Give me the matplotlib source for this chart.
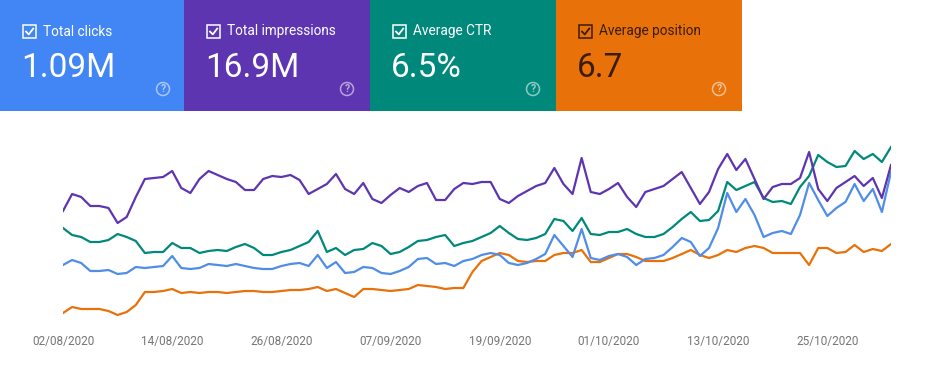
import matplotlib.pyplot as plt
import matplotlib.dates as mdates
import matplotlib.patches as mpatches
import pandas as pd

plt.rcParams['font.family'] = ['Roboto', 'DejaVu Sans']

# summary cards
card_titles = ["Total clicks", "Total impressions", "Average CTR", "Average position"]
card_values = ["1.09M", "16.9M", "6.5%", "6.7"]
card_colors = ["#4285f4", "#5e35b1", "#00897b", "#e8710a"]
card_text = ["white", "white", "white", "#3a1d00"]

# daily series (relative chart level, no y scale shown)
start_date = "2020-08-02"
clicks = [55, 60, 57, 49, 49, 50, 46, 47, 53, 52, 53, 54, 64, 52, 51,
          52, 56, 55, 54, 56, 54, 52, 51, 51, 54, 56, 57, 54, 65, 52, 58,
          47, 48, 53, 52, 47, 46, 49, 53, 61, 62, 56, 57, 54, 59, 61,
          65, 67, 65, 57, 55, 57, 61, 66, 85, 74, 63, 91, 62, 60, 64,
          66, 63, 55, 61, 62, 65, 73, 82, 78, 64, 72, 92, 127, 108, 121, 105,
          83, 87, 89, 86, 105, 137, 120, 104, 112, 118, 136, 119, 131, 108, 148]
impressions = [109, 126, 123, 114, 114, 112, 97, 103, 123, 141, 142, 143, 149, 132, 127,
               141, 149, 145, 141, 138, 130, 130, 141, 144, 143, 145, 140, 126, 131, 136, 146,
               131, 126, 137, 121, 117, 125, 132, 128, 134, 137, 120, 120, 131, 137, 136,
               138, 138, 121, 117, 124, 129, 134, 137, 152, 136, 126, 162, 128, 126, 131,
               137, 123, 113, 128, 131, 134, 141, 148, 132, 116, 128, 151, 166, 150, 161, 141,
               121, 133, 136, 136, 142, 168, 131, 119, 132, 138, 144, 134, 142, 122, 155]
ctr = [92, 85, 83, 78, 78, 80, 86, 83, 79, 67, 68, 68, 77, 72, 72,
       67, 69, 70, 69, 73, 76, 72, 65, 65, 68, 70, 74, 78, 89, 68, 72,
       65, 70, 71, 77, 74, 66, 68, 73, 79, 80, 83, 85, 74, 77, 79,
       83, 87, 94, 87, 81, 80, 82, 86, 101, 99, 89, 102, 86, 85, 88,
       88, 91, 86, 83, 83, 86, 93, 101, 108, 99, 100, 109, 138, 130, 134, 138,
       122, 118, 119, 116, 133, 144, 165, 158, 153, 154, 169, 161, 166, 158, 173]
position = [7, 13, 11, 11, 11, 9, 5, 8, 15, 28, 28, 29, 31, 27, 28,
            27, 28, 28, 27, 28, 29, 29, 28, 28, 29, 30, 30, 31, 33, 29, 31,
            27, 23, 31, 31, 30, 29, 30, 31, 35, 34, 33, 31, 32, 32, 48,
            59, 63, 67, 65, 59, 58, 59, 59, 65, 67, 67, 70, 58, 58, 62,
            66, 66, 63, 59, 59, 59, 62, 66, 70, 65, 62, 65, 70, 68, 72, 74,
            72, 67, 67, 67, 67, 55, 72, 72, 67, 68, 75, 68, 71, 69, 76]

dates = pd.date_range(start_date, periods=len(clicks), freq="D")

W, H = 941, 372
fig = plt.figure(figsize=(W / 100, H / 100), dpi=100)

# cards across the top
card_w = [184, 186, 186, 186]
x0 = 0
for title, value, col, tcol, w in zip(card_titles, card_values, card_colors, card_text, card_w):
    cax = fig.add_axes([x0 / W, 1 - 111 / H, w / W, 111 / H])
    cax.set_facecolor(col)
    cax.set_xlim(0, w)
    cax.set_ylim(111, 0)
    cax.set_xticks([])
    cax.set_yticks([])
    for s in cax.spines.values():
        s.set_visible(False)
    cax.add_patch(mpatches.Rectangle((23, 25), 13, 13, fill=False, ec=tcol, lw=1.1))
    cax.plot([26, 28.8, 33.2], [31.6, 34.4, 28.6], color=tcol, lw=1.3)
    cax.text(43, 31.5, title, color=tcol, fontsize=9.8, va="center", ha="left")
    cax.text(21, 68, value, color=tcol, fontsize=24, va="center", ha="left")
    cax.add_patch(mpatches.Circle((163, 89), 6.5, fill=False, ec="white", lw=1.1, alpha=0.55))
    cax.text(163, 89.5, "?", color="white", alpha=0.6, fontsize=7.5, ha="center", va="center",
             fontweight="bold")
    x0 += w

# line chart
ax = fig.add_axes([63 / W, (H - 320) / H, (891 - 63) / W, 180 / H])
ax.plot(dates, position, color="#e8710a", lw=1.6)
ax.plot(dates, clicks, color="#4f8de8", lw=1.6)
ax.plot(dates, ctr, color="#00897b", lw=1.6)
ax.plot(dates, impressions, color="#5e35b1", lw=1.6)
ax.set_xlim(dates[0], dates[-1])
ax.set_ylim(0, 180)
ax.set_yticks([])
ax.set_xticks(dates[::12][:8])
ax.xaxis.set_major_formatter(mdates.DateFormatter("%d/%m/%Y"))
ax.tick_params(axis="x", length=0, pad=11, labelsize=8.5, labelcolor="#757575")
for s in ax.spines.values():
    s.set_visible(False)

fig.savefig("out.png", dpi=100)
